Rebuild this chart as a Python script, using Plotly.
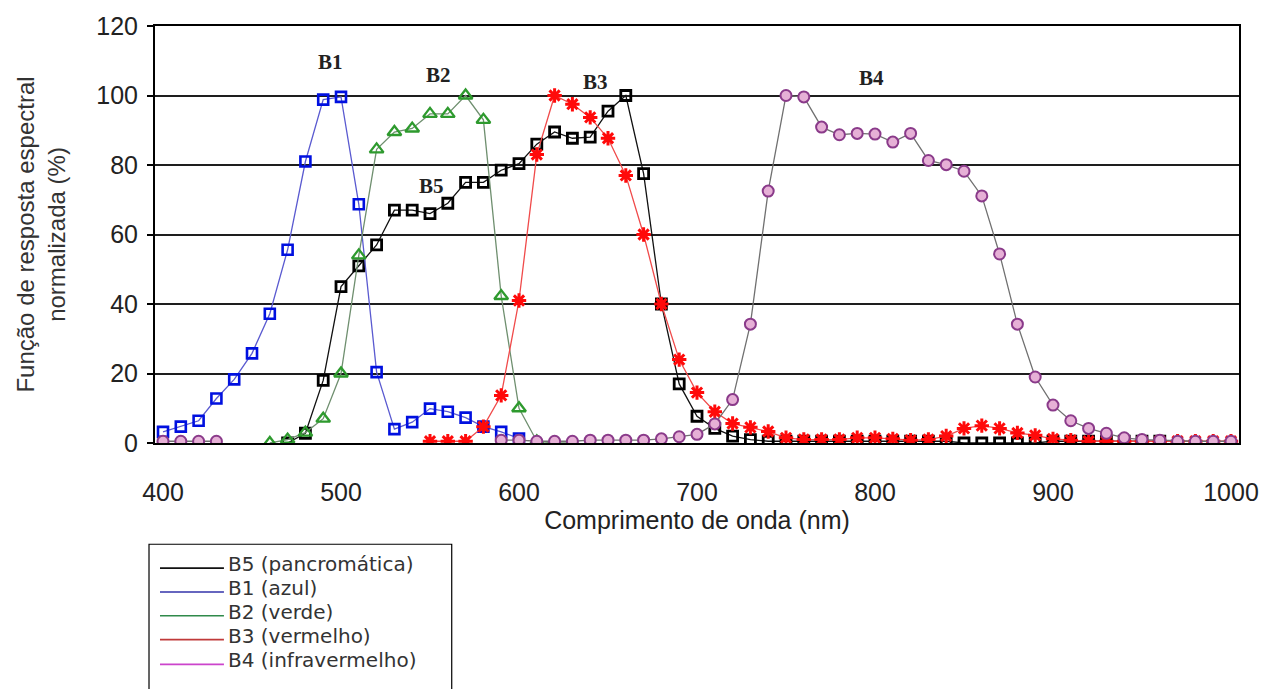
import plotly.graph_objects as go

# ---------------- data ----------------
wl_b5 = list(range(470, 970, 10))
b5 = [0, 2.8, 18, 45, 51, 57, 67, 67, 66, 69, 75, 75, 78.5, 80.4, 86, 89.5, 87.7, 88,
      95.5, 100, 77.5, 40, 17, 7.7, 4.2, 2, 1, 0.5, 0.5, 0.5, 0.5, 0.5, 0.5, 0.5, 0.5,
      0.5, 0.5, 0.5, 0, 0, 0, 0, 0, 0.5, 0.5, 0.5, 0.5, 0.5, 0.5, 0.5]

wl_b1 = list(range(400, 610, 10))
b1 = [3.2, 4.7, 6.4, 12.8, 18.3, 25.8, 37.2, 55.6, 81, 98.8, 99.6, 68.7, 20.4, 4,
      6, 9.9, 9, 7.3, 4.7, 3.2, 1.3]

wl_b2 = list(range(460, 640, 10))
b2 = [0, 1, 3, 7, 20, 54, 84.5, 89.5, 90.5, 94.7, 94.7, 100, 93, 42.3, 10, 0.5, 0, 0]

wl_b3 = list(range(550, 1010, 10))
b3 = [0.5, 0.5, 0.5, 4.7, 13.7, 41, 83, 100, 97.5, 93.7, 87.7, 77, 60, 40, 24, 14.5,
      9, 5.6, 4.5, 3.3, 1.5, 1, 1, 1, 1.5, 1.5, 1.2, 0.8, 1, 2, 4.2, 5, 4.2, 2.9,
      2.2, 1.2, 0.8, 0.5, 0.5, 0.5, 0.5, 0.5, 0.5, 0.5, 0.5, 0.5]

wl_b4 = [400, 410, 420, 430, None] + list(range(590, 1010, 10))
b4 = [0.5, 0.5, 0.5, 0.5, None,
      0.8, 0.8, 0.5, 0.5, 0.5, 0.8, 0.8, 0.8, 0.8, 1.2, 1.8, 2.5, 5.5, 12.5, 34.2,
      72.5, 100, 99.6, 90.9, 88.7, 89.1, 88.9, 86.6, 89.1, 81.3, 80.1, 78.2, 71.1,
      54.4, 34.2, 19, 10.9, 6.4, 4.2, 2.8, 1.5, 1, 0.8, 0.5, 0.5, 0.5, 0.5]

band_labels = ["B1", "B2", "B3", "B4", "B5"]
band_label_x = [494, 555, 643, 798, 551]
band_label_y = [109.5, 106, 104, 105, 74]

legend_names = ["B5 (pancromática)", "B1 (azul)", "B2 (verde)",
                "B3 (vermelho)", "B4 (infravermelho)"]
legend_colors = ["#111111", "#3333aa", "#2f8a4a", "#c03a3a", "#cc44cc"]

x_ticks = [400, 500, 600, 700, 800, 900, 1000]
y_ticks = [0, 20, 40, 60, 80, 100, 120]

# ---------------- layout geometry ----------------
W, H = 1271, 689
ML, MR, MT, MB = 155, 31, 23, 246
PW, PH = W - ML - MR, H - MT - MB


def px_x(px):
    return (px - ML) / PW


def px_y(py):
    return (H - MB - py) / PH


fig = go.Figure()

fig.add_trace(go.Scatter(
    x=wl_b5, y=b5, mode="lines+markers", name=legend_names[0], showlegend=False,
    line=dict(color="#111111", width=1.3),
    marker=dict(symbol="square-open", size=10, color="#000000",
                line=dict(width=2.8, color="#000000"))))

fig.add_trace(go.Scatter(
    x=wl_b1, y=b1, mode="lines+markers", name=legend_names[1], showlegend=False,
    line=dict(color="#5a5ad0", width=1.3),
    marker=dict(symbol="square-open", size=10, color="#0010e0",
                line=dict(width=2.6, color="#0010e0"))))

fig.add_trace(go.Scatter(
    x=wl_b2, y=b2, mode="lines+markers", name=legend_names[2], showlegend=False,
    line=dict(color="#6f8f6f", width=1.3),
    marker=dict(symbol="triangle-up-open", size=12, color="#2e9a2e",
                line=dict(width=2.3, color="#2e9a2e"))))

fig.add_trace(go.Scatter(
    x=wl_b3, y=b3, mode="lines+markers", name=legend_names[3], showlegend=False,
    line=dict(color="#f04a4a", width=1.3),
    marker=dict(symbol="asterisk-open", size=12, color="#ff0a0a",
                line=dict(width=3, color="#ff0a0a"))))

fig.add_trace(go.Scatter(
    x=wl_b4, y=b4, mode="lines+markers", name=legend_names[4], showlegend=False,
    connectgaps=False,
    line=dict(color="#707070", width=1.3),
    marker=dict(symbol="circle", size=11, color="#e6b0d6",
                line=dict(width=2, color="#8a3a8a"))))

# band labels
for t, xx, yy in zip(band_labels, band_label_x, band_label_y):
    fig.add_annotation(x=xx, y=yy, text="<b>%s</b>" % t, showarrow=False,
                       font=dict(family="Liberation Serif, Times New Roman, serif",
                                 size=21, color="#222222"))

# manual legend box (Excel-like, lines only)
shapes = [dict(type="rect", xref="paper", yref="paper",
               x0=px_x(149), x1=px_x(452), y0=px_y(545), y1=px_y(700),
               line=dict(color="#000000", width=1.2), fillcolor="rgba(0,0,0,0)")]
row_y = [569, 593, 617, 641, 666]
for name, col, ry in zip(legend_names, legend_colors, row_y):
    shapes.append(dict(type="line", xref="paper", yref="paper",
                       x0=px_x(160), x1=px_x(224), y0=px_y(ry), y1=px_y(ry),
                       line=dict(color=col, width=1.6)))
    fig.add_annotation(xref="paper", yref="paper", x=px_x(226), y=px_y(ry - 4),
                       xanchor="left", yanchor="middle", text=name, showarrow=False,
                       font=dict(family="DejaVu Sans, Verdana, sans-serif", size=20,
                                 color="#333333"))

fig.update_layout(
    width=W, height=H,
    margin=dict(l=ML, r=MR, t=MT, b=MB, pad=0),
    paper_bgcolor="white", plot_bgcolor="white",
    showlegend=False,
    shapes=shapes,
    font=dict(family="Liberation Sans, Arial, sans-serif", size=25, color="#222222"),
    xaxis=dict(range=[395.5, 1004.5], tickmode="array", tickvals=x_ticks,
               ticks="", showgrid=False, zeroline=False,
               showline=True, linecolor="#000000", linewidth=2, mirror=True,
               ticklabelstandoff=26,
               tickfont=dict(size=25, color="#222222"),
               title=dict(text="Comprimento de onda (nm)", standoff=4,
                          font=dict(size=25, color="#222222"))),
    yaxis=dict(range=[0, 120], tickmode="array", tickvals=y_ticks,
               ticks="outside", ticklen=6, tickwidth=1.5, tickcolor="#000000",
               showgrid=True, gridcolor="#1e1e1e", gridwidth=1.6, zeroline=False,
               showline=True, linecolor="#000000", linewidth=2, mirror=True,
               ticklabelstandoff=4,
               tickfont=dict(size=25, color="#222222"),
               title=dict(text="Função de resposta espectral<br>normalizada (%)",
                          standoff=24, font=dict(size=24, color="#333333"))),
)

fig.write_html("out.html")
